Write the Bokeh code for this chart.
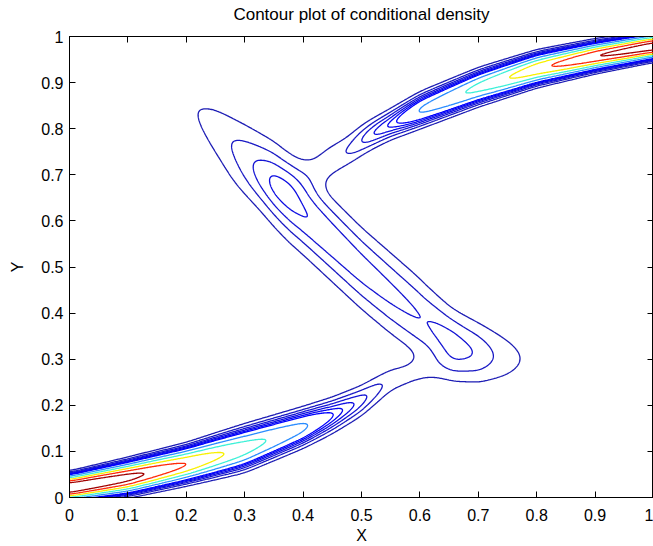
import numpy as np
from bokeh.plotting import figure
from bokeh.models import Range1d, LinearAxis, FixedTicker
from bokeh.embed import file_html
from bokeh.resources import INLINE

TITLE = "Contour plot of conditional density"
X_LABEL = "X"
Y_LABEL = "Y"
X_TICKS = [0, 0.1, 0.2, 0.3, 0.4, 0.5, 0.6, 0.7, 0.8, 0.9, 1]
X_TICK_LABELS = ["0", "0.1", "0.2", "0.3", "0.4", "0.5", "0.6", "0.7", "0.8", "0.9", "1"]
Y_TICKS = [0, 0.1, 0.2, 0.3, 0.4, 0.5, 0.6, 0.7, 0.8, 0.9, 1]
Y_TICK_LABELS = ["0", "0.1", "0.2", "0.3", "0.4", "0.5", "0.6", "0.7", "0.8", "0.9", "1"]

# Mixture components of the conditional density p(y | x), read as knots along x
# lower branch
A_X = [0.0, 0.1, 0.2, 0.3, 0.4, 0.45, 0.5, 0.55, 0.6, 0.65, 0.7, 0.8]
A_MEAN = [0.021, 0.043, 0.072, 0.107, 0.152, 0.178, 0.21, 0.255, 0.272, 0.282, 0.29, 0.3]
A_WIDTH = [0.0128, 0.016, 0.018, 0.022, 0.021, 0.021, 0.021, 0.022, 0.024, 0.026, 0.028, 0.03]
A_HEIGHT = [31.5, 25.8, 17.0, 9.9, 5.5, 3.05, 1.73, 0.8, 0.5, 0.3, 0.15, 0.03]
# middle branch
B_X = [0.15, 0.2, 0.25, 0.3, 0.35, 0.375, 0.4, 0.45, 0.5, 0.55, 0.6, 0.61, 0.65, 0.66, 0.7, 0.75, 0.8, 0.85]
B_MEAN = [0.91, 0.853, 0.795, 0.737, 0.68, 0.65, 0.62, 0.558, 0.497, 0.443, 0.392, 0.382, 0.34, 0.333, 0.316, 0.305, 0.298, 0.295]
B_WIDTH = [0.04, 0.045, 0.05, 0.053, 0.055, 0.056, 0.056, 0.056, 0.056, 0.057, 0.056, 0.054, 0.048, 0.047, 0.045, 0.044, 0.042, 0.04]
B_HEIGHT = [0.12, 0.38, 0.75, 1.25, 2.06, 2.16, 2.02, 1.85, 1.74, 1.62, 1.5, 1.47, 1.69, 1.69, 1.32, 0.65, 0.28, 0.1]
# upper branch
C_X = [0.35, 0.4, 0.44, 0.476, 0.5, 0.52, 0.55, 0.6, 0.7, 0.8, 0.9, 1.0]
C_MEAN = [0.68, 0.705, 0.727, 0.752, 0.775, 0.79, 0.81, 0.84, 0.89, 0.93, 0.957, 0.979]
C_WIDTH = [0.035, 0.033, 0.03, 0.025, 0.022, 0.02, 0.019, 0.019, 0.018, 0.016, 0.014, 0.0125]
C_HEIGHT = [0.1, 0.35, 0.75, 1.0, 1.5, 2.0, 2.6, 5.2, 9.0, 15.4, 22.6, 27.7]

LEVELS = [0.5, 1.0, 1.5, 2.0, 2.5, 3.0, 5.0, 8.0, 12.0, 17.0, 23.0]
LEVEL_COLORS = ["#1c1cb4", "#1818c4", "#1414d4", "#0c0ce2", "#0606f0", "#0000ff",
                "#2a8cff", "#3cf0d8", "#f8f000", "#ff2a08", "#a00000"]

FONT = "Liberation Sans"

XG = np.linspace(0.0, 1.0, 601)
YG = np.linspace(0.0, 1.0, 601)


def profile(kx, kv, log=False, smooth=0.01):
    v = np.log(np.asarray(kv, float)) if log else np.asarray(kv, float)
    f = np.interp(XG, kx, v)
    dx = XG[1] - XG[0]
    n = int(4 * smooth / dx)
    k = np.exp(-0.5 * ((np.arange(-n, n + 1) * dx) / smooth) ** 2)
    k /= k.sum()
    f = np.convolve(np.pad(f, n, mode="edge"), k, mode="valid")
    return np.exp(f) if log else f


def component(kx, mean, width, height):
    m = profile(kx, mean)
    s = profile(kx, width)
    h = profile(kx, height, log=True, smooth=0.008)
    return h[None, :] * np.exp(-0.5 * ((YG[:, None] - m[None, :]) / s[None, :]) ** 2)


Z = (component(A_X, A_MEAN, A_WIDTH, A_HEIGHT)
     + component(B_X, B_MEAN, B_WIDTH, B_HEIGHT)
     + component(C_X, C_MEAN, C_WIDTH, C_HEIGHT))

p = figure(width=653, height=546, x_range=Range1d(0, 1), y_range=Range1d(0, 1),
           output_backend="svg", toolbar_location=None,
           min_border_left=69, min_border_right=0, min_border_top=36, min_border_bottom=49)
p.background_fill_color = "white"
p.border_fill_color = "white"
p.outline_line_color = "black"
p.xgrid.visible = False
p.ygrid.visible = False

p.contour(XG, YG, Z, LEVELS, line_color=LEVEL_COLORS, line_width=1.3)


def style(ax, ticks, labels, show):
    ax.ticker = FixedTicker(ticks=ticks)
    ax.major_tick_in = 6
    ax.major_tick_out = 0
    ax.minor_tick_in = 0
    ax.minor_tick_out = 0
    ax.axis_line_color = "black"
    ax.major_tick_line_color = "black"
    ax.major_label_text_font = FONT
    ax.major_label_text_color = "black"
    ax.major_label_text_font_size = "16px"
    ax.axis_label_text_font = FONT
    ax.axis_label_text_font_size = "16px"
    ax.axis_label_text_font_style = "normal"
    ax.axis_label_text_color = "black"
    if show:
        ax.major_label_overrides = {t: l for t, l in zip(ticks, labels)}
    else:
        ax.major_label_overrides = {t: "" for t in ticks}
        ax.major_label_text_font_size = "1px"
        ax.major_label_standoff = 0


style(p.xaxis[0], X_TICKS, X_TICK_LABELS, True)
p.xaxis[0].major_label_standoff = 11
p.xaxis[0].axis_label = X_LABEL
p.xaxis[0].axis_label_standoff = 3
style(p.yaxis[0], Y_TICKS, Y_TICK_LABELS, True)
p.yaxis[0].major_label_standoff = 6
p.yaxis[0].axis_label = Y_LABEL
p.yaxis[0].axis_label_standoff = 12

# top edge of the box carries the chart title
top = LinearAxis()
style(top, X_TICKS, X_TICK_LABELS, False)
top.axis_label = TITLE
top.axis_label_text_font_size = "17px"
top.axis_label_standoff = 13
p.add_layout(top, "above")
right = LinearAxis()
style(right, Y_TICKS, Y_TICK_LABELS, False)
p.add_layout(right, "right")

open("out.html", "w").write(file_html(p, INLINE))
